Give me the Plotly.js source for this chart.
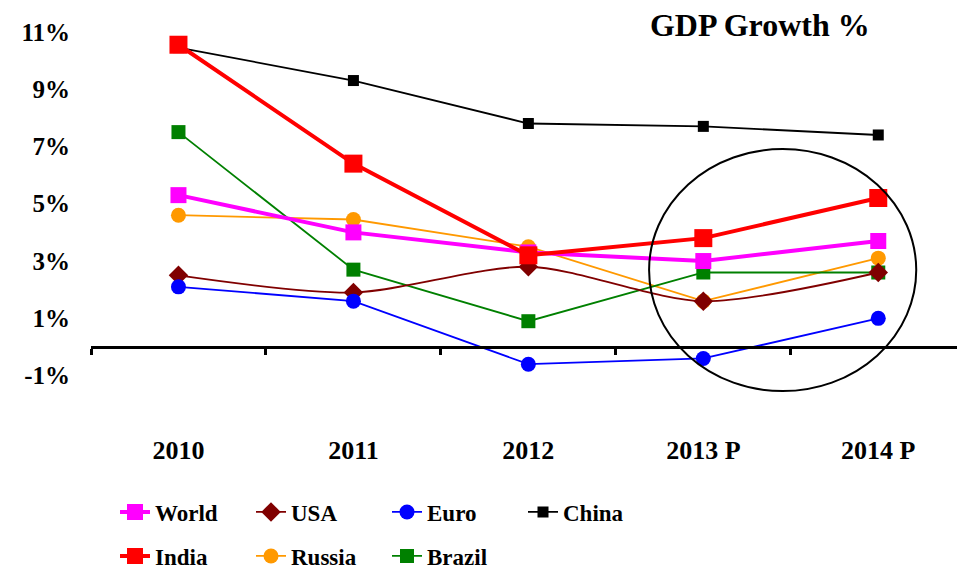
<!DOCTYPE html>
<html>
<head>
<meta charset="utf-8">
<script src="https://cdn.plot.ly/plotly-3.0.1.min.js"></script>
<style>html,body{margin:0;padding:0;background:#fff;}#chart{width:957px;height:570px;}</style>
</head>
<body>
<div id="chart"></div>
<script>
const categories = ['2010', '2011', '2012', '2013 P', '2014 P'];
const world  = [5.3, 4.0, 3.3, 3.0, 3.7];
const usa    = [2.5, 1.9, 2.8, 1.6, 2.6];
const euro   = [2.1, 1.6, -0.6, -0.4, 1.0];
const china  = [10.45, 9.3, 7.8, 7.7, 7.4];
const india  = [10.55, 6.4, 3.2, 3.8, 5.2];
const russia = [4.6, 4.45, 3.5, 1.6, 3.1];
const brazil = [7.5, 2.7, 0.9, 2.6, 2.6];
const yTicks = [-1, 1, 3, 5, 7, 9, 11];
const yTickText = yTicks.map(v => v + '%');

const FONT = 'Liberation Serif, DejaVu Serif, serif';

function tr(name, y, color, symbol, msize, lw, legend, xa, shape) {
  return {
    type: 'scatter', mode: 'lines+markers', name: name, x: categories, y: y,
    xaxis: xa,
    line: {color: color, width: lw, shape: shape || 'linear', smoothing: 0.8},
    marker: {color: color, symbol: symbol, size: msize},
    legend: legend, cliponaxis: false
  };
}

const order = {World: 1, USA: 2, Euro: 3, China: 4, India: 1, Russia: 2, Brazil: 3};
const data = [
  tr('Russia', russia, '#FF9900', 'circle', 15, 1.8, 'legend2', 'x'),
  tr('Brazil', brazil, '#008000', 'square', 14, 1.8, 'legend2', 'x'),
  tr('USA', usa, '#800000', 'diamond', 15, 1.8, 'legend', 'x', 'spline'),
  tr('Euro', euro, '#0000FF', 'circle', 15, 1.8, 'legend', 'x'),
  tr('China', china, '#000000', 'square', 11, 1.8, 'legend', 'x'),
  tr('World', world, '#FF00FF', 'square', 16, 4, 'legend', 'x2'),
  tr('India', india, '#FF0000', 'square', 18, 4, 'legend2', 'x2')
];
data.forEach(t => { t.legendrank = order[t.name]; });

const yMin = -2.967, yMax = 11.413;
const zeroPos = (0 - yMin) / (yMax - yMin);
const xRange = [-0.5, 4.45];

const legendCommon = {
  orientation: 'h', entrywidth: 91, entrywidthmode: 'pixels',
  font: {family: FONT, size: 23, color: '#000', weight: 'bold'}, xanchor: 'left', yanchor: 'middle',
  xref: 'container', yref: 'container',
  bgcolor: 'rgba(0,0,0,0)', traceorder: 'normal'
};

const layout = {
  width: 957, height: 570,
  margin: {l: 91, r: 0, t: 20, b: 138, autoexpand: false},
  paper_bgcolor: '#fff', plot_bgcolor: '#fff',
  showlegend: true,
  title: {text: 'GDP Growth %', font: {family: FONT, size: 32, color: '#000', weight: 'bold'},
          xref: 'container', x: 0.794, xanchor: 'center', yref: 'container', y: 0.956, yanchor: 'middle'},
  xaxis: {type: 'category', range: xRange, anchor: 'free', position: zeroPos,
          showline: true, linewidth: 3, linecolor: '#000', showgrid: false, zeroline: false,
          ticks: 'outside', tickson: 'boundaries', ticklen: 6, tickwidth: 3, tickcolor: '#000',
          showticklabels: false},
  xaxis2: {type: 'category', overlaying: 'x', anchor: 'y', side: 'bottom', range: xRange,
           showline: false, showgrid: false, zeroline: false, ticks: '', ticklabelstandoff: 0,
           tickfont: {family: FONT, size: 26, color: '#000', weight: 'bold'}},
  yaxis: {range: [yMin, yMax], tickmode: 'array', tickvals: yTicks, ticktext: yTickText,
          showline: false, showgrid: false, zeroline: false, ticks: '', ticklabelstandoff: 20,
          tickfont: {family: FONT, size: 25, color: '#000', weight: 'bold'}},
  legend: Object.assign({}, legendCommon, {x: 115 / 957, y: 1 - 512 / 570}),
  legend2: Object.assign({}, legendCommon, {x: 115 / 957, y: 1 - 556 / 570}),
  shapes: [{type: 'circle', xref: 'x', yref: 'y', x0: 2.69, x1: 4.217, y0: -1.54, y1: 6.91,
            line: {color: '#000', width: 2}, layer: 'above'}]
};

Plotly.newPlot('chart', data, layout, {displayModeBar: false, staticPlot: true});
</script>
</body>
</html>
